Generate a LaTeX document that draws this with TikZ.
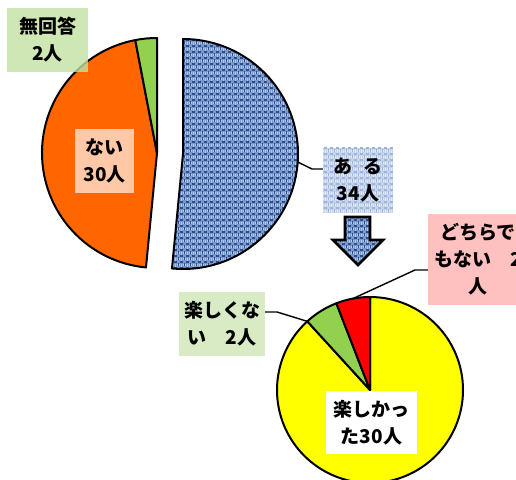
\documentclass[tikz,border=0pt]{standalone}
\usepackage{fontspec}
\newfontfamily\jp{Noto Sans CJK JP}
\usetikzlibrary{patterns}
\definecolor{pieorange}{HTML}{FF6600}
\definecolor{piegreen}{HTML}{92D050}
\definecolor{pieyellow}{HTML}{FFFF00}
\definecolor{piered}{HTML}{FF0000}
\definecolor{blueA}{HTML}{7898CE}
\definecolor{blueD}{HTML}{2E4C88}
\definecolor{blueH}{HTML}{AECAF2}
\definecolor{blueL}{HTML}{C4D4EC}
\definecolor{blueM}{HTML}{9CB3DA}
\definecolor{blueW}{HTML}{E2EAF6}
\definecolor{boxgreen}{HTML}{C3E1A2}
\definecolor{boxgreenL}{HTML}{D8EBC4}
\definecolor{boxpink}{HTML}{FFC0C0}
\definecolor{boxpeach}{HTML}{FFC8A6}
\pgfdeclarepatternformonly{weaveD}{\pgfqpoint{-1pt}{-1pt}}{\pgfqpoint{7pt}{7pt}}{\pgfqpoint{6pt}{6pt}}{%
  \pgfsetlinewidth{1.5pt}%
  \pgfpathmoveto{\pgfqpoint{0pt}{1pt}}\pgfpathlineto{\pgfqpoint{3pt}{1pt}}%
  \pgfpathmoveto{\pgfqpoint{4.6pt}{2.6pt}}\pgfpathlineto{\pgfqpoint{4.6pt}{6pt}}%
  \pgfusepath{stroke}}
\pgfdeclarepatternformonly{weaveL}{\pgfqpoint{-1pt}{-1pt}}{\pgfqpoint{7pt}{7pt}}{\pgfqpoint{6pt}{6pt}}{%
  \pgfsetlinewidth{1.3pt}%
  \pgfpathmoveto{\pgfqpoint{2.8pt}{4pt}}\pgfpathlineto{\pgfqpoint{6pt}{4pt}}%
  \pgfpathmoveto{\pgfqpoint{1.4pt}{2.4pt}}\pgfpathlineto{\pgfqpoint{1.4pt}{5.4pt}}%
  \pgfusepath{stroke}}
\begin{document}
\begin{tikzpicture}[x=1pt,y=1pt,
  lbl/.style={font=\jp\bfseries\fontsize{19}{27}\selectfont, align=center, inner sep=0pt, text=black},
  slice/.style={draw=black, line width=2pt, line join=round},
  leader/.style={draw=black, line width=1.4pt},
  denim/.style={preaction={fill=blueA}, preaction={pattern=weaveL, pattern color=blueH}, pattern=weaveD, pattern color=blueD},
  denimlight/.style={preaction={fill=blueL}, preaction={pattern=weaveL, pattern color=blueW}, pattern=weaveD, pattern color=blueM}]
\useasboundingbox (0,0) rectangle (516,479);
\coordinate (c1) at (157,326);
\coordinate (c2) at (183,325);
\coordinate (c3) at (370,89);

% top pie
\path[slice, fill=pieorange] (c1) -- ++(100.9:115) arc[start angle=100.9, end angle=264.5, radius=115] -- cycle;
\path[slice, fill=piegreen] (c1) -- ++(90:115) arc[start angle=90, end angle=100.9, radius=115] -- cycle;
\path[slice, denim] (c2) -- ++(-95.5:115) arc[start angle=-95.5, end angle=90, radius=115] -- cycle;

% bottom pie
\path[slice, fill=pieyellow] (c3) -- ++(90:93) arc[start angle=90, end angle=-227.6, radius=93] -- cycle;
\path[slice, fill=piegreen] (c3) -- ++(111.2:93) arc[start angle=111.2, end angle=132.4, radius=93] -- cycle;
\path[slice, fill=piered] (c3) -- ++(90:93) arc[start angle=90, end angle=111.2, radius=93] -- cycle;

% arrow
\path[draw=black, line width=2.6pt, line join=miter, denim]
  (345,262) -- (370,262) -- (370,239) -- (383,239) -- (358,214) -- (333,239) -- (345,239) -- cycle;

% labels
\node[lbl, fill=boxgreen, fill opacity=0.8, text opacity=1, minimum width=81pt, minimum height=64pt] (muk) at (47.5,439) {無回答\\2人};
\node[lbl, fill=boxpeach, minimum width=59pt, minimum height=64pt] (nai) at (104.5,318) {ない\\30人};
\node[lbl, denimlight, minimum width=70pt, minimum height=65pt] (aru) at (358,298.5) {};
\node[lbl] (arut) at (358,298.5) {あ\hspace{0.6em}る\\34人};
\node[lbl, fill=boxpink, minimum width=100pt, minimum height=91pt] (doc) at (478,219.5) {どちらで\\もない　2\\人};
\node[lbl, fill=boxgreenL, minimum width=86pt, minimum height=64pt] (tkn) at (222,155) {楽しくな\\い　2人};
\node[lbl, fill=white, minimum width=91pt, minimum height=63pt] (tk) at (371.5,56.5) {楽しかっ\\た30人};

% leaders
\path (c2) ++(-4:115) coordinate (a1);
\coordinate (k1) at (312,310);
\draw[leader] (a1) -- (k1) -- (k1 -| aru.west);
\path (c3) ++(100.6:93) coordinate (a2);
\coordinate (k2) at (415,209);
\draw[leader] (a2) -- (k2) -- (k2 -| doc.west);
\path (c3) ++(132.4:93) coordinate (a3);
\coordinate (k3) at (277,167);
\draw[leader] (a3) -- (k3) -- (k3 -| tkn.east);
\end{tikzpicture}
\end{document}
